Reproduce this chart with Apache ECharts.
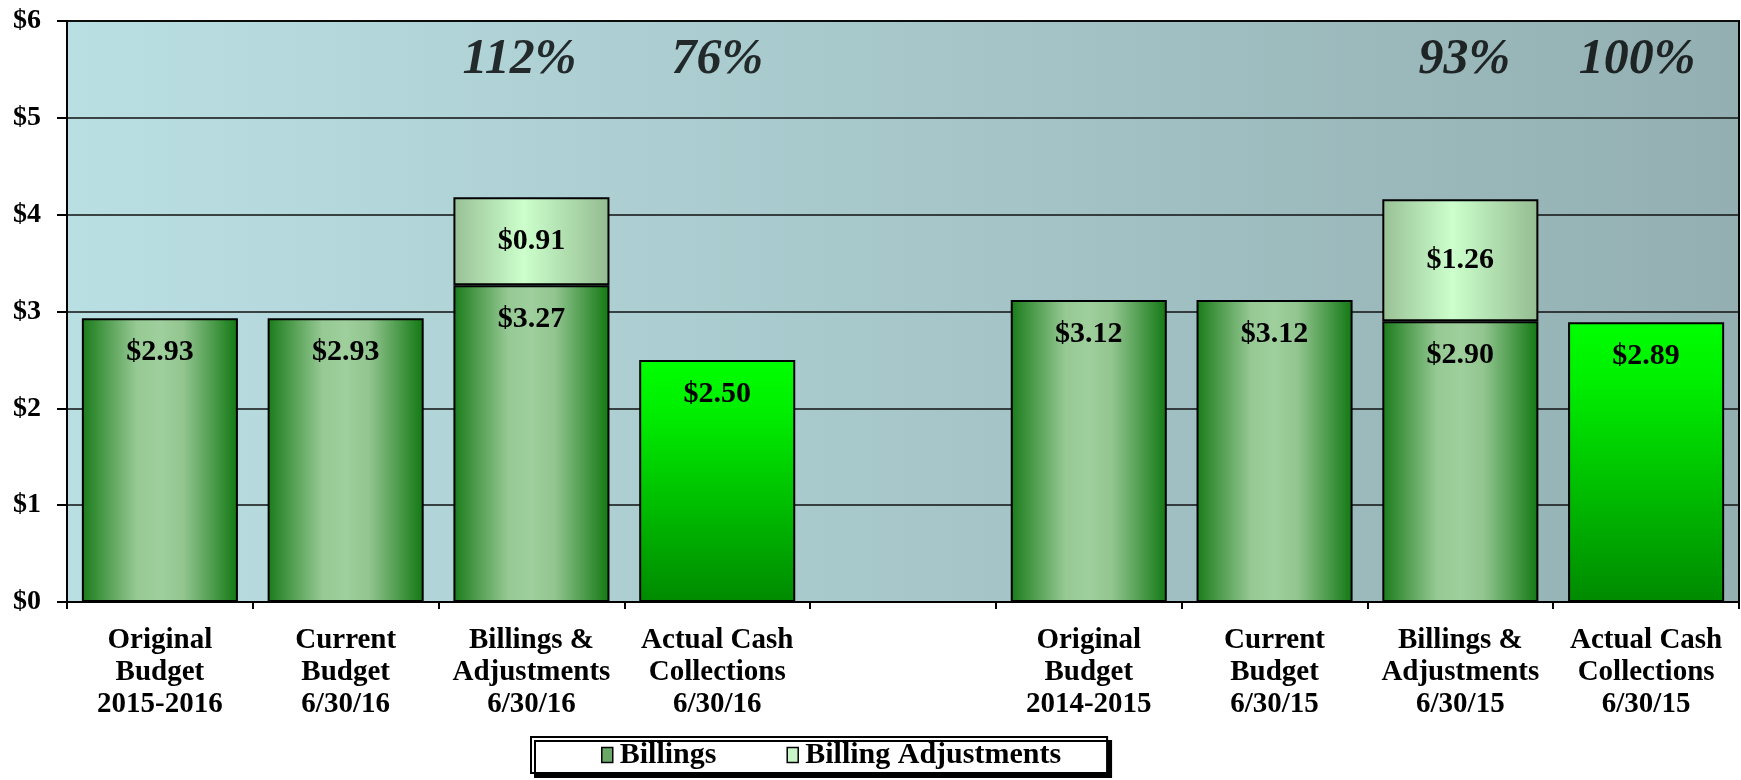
<!DOCTYPE html>
<html>
<head>
<meta charset="utf-8">
<script src="https://cdn.jsdelivr.net/npm/echarts@6/dist/echarts.min.js"></script>
<style>
  html, body { margin: 0; padding: 0; background: #fff; }
  #chart { width: 1741px; height: 780px; }
</style>
</head>
<body>
<div id="chart"></div>
<script>
'use strict';

// categories (the empty one is the gap between the two fiscal years)
var categories = [
    'Original\nBudget\n2015-2016',
    'Current\nBudget\n6/30/16',
    'Billings &\nAdjustments\n6/30/16',
    'Actual Cash\nCollections\n6/30/16',
    '',
    'Original\nBudget\n2014-2015',
    'Current\nBudget\n6/30/15',
    'Billings &\nAdjustments\n6/30/15',
    'Actual Cash\nCollections\n6/30/15'
];
var billings = [2.93, 2.93, 3.27, 2.50, null, 3.12, 3.12, 2.90, 2.89];
var adjustments = [null, null, 0.91, null, null, null, null, 1.26, null];
var pctLabels = ['', '', '112%', '76%', '', '', '', '93%', '100%'];
var pctShift = [0, 0, -12, 0, 0, 0, 0, 4, -9]; // the text boxes aren't quite centred in the original
var yTicks = [0, 1, 2, 3, 4, 5, 6];

const FONT = '"Liberation Serif", "Times New Roman", serif';
const PCT_Y = 5.6; // height where the percentages sit

// horizontal "cylinder" gradients like the excel original
var billGrad = {
    type: 'linear', x: 0, y: 0, x2: 1, y2: 0,
    colorStops: [
        { offset: 0, color: '#1a7b1a' },
        { offset: 0.35, color: '#96c994' },
        { offset: 0.5, color: '#9ecf9c' },
        { offset: 0.65, color: '#92c590' },
        { offset: 1, color: '#127812' }
    ]
};
var adjGrad = {
    type: 'linear', x: 0, y: 0, x2: 1, y2: 0,
    colorStops: [
        { offset: 0, color: '#98c095' },
        { offset: 0.45, color: '#ccffcc' },
        { offset: 1, color: '#94bc91' }
    ]
};
var cashGrad = {
    type: 'linear', x: 0, y: 0, x2: 0, y2: 1,
    colorStops: [
        { offset: 0, color: '#00ff00' },
        { offset: 0.2, color: '#00f000' },
        { offset: 1, color: '#008a00' }
    ]
};

var myChart = echarts.init(document.getElementById('chart'));

var option = {
    animation: false,
    grid: {
        left: 67, right: 2, top: 21, bottom: 178,
        outerBoundsMode: 'none',
        show: true,
        borderColor: '#000',
        borderWidth: 2,
        backgroundColor: {
            type: 'linear', x: 0, y: 0, x2: 1, y2: 0,
            colorStops: [
                { offset: 0, color: '#badfe3' },
                { offset: 1, color: '#93afb1' }
            ]
        }
    },
    legend: {
        data: [
            { name: 'Billings', itemStyle: { color: '#6aa868', borderColor: '#000', borderWidth: 1.5 } },
            { name: 'Billing Adjustments', itemStyle: { color: '#c8f5c8', borderColor: '#000', borderWidth: 1.5 } }
        ],
        left: 531,
        top: 737,
        icon: 'rect',
        itemWidth: 11,
        itemHeight: 15,
        itemGap: 70,
        padding: [3, 46, 3, 70],
        backgroundColor: '#fff',
        borderColor: '#000',
        borderWidth: 2,
        borderRadius: 0,
        shadowColor: '#000',
        shadowBlur: 0,
        shadowOffsetX: 4,
        shadowOffsetY: 4,
        textStyle: { fontFamily: FONT, fontWeight: 'bold', fontSize: 30, color: '#000', padding: [0, 0, 0, 2] },
        selectedMode: false
    },
    xAxis: {
        type: 'category',
        data: categories,
        axisLine: { show: true, lineStyle: { color: '#000', width: 2 } },
        axisTick: { show: true, length: 7, lineStyle: { color: '#000', width: 2 } },
        axisLabel: {
            interval: 0,
            margin: 23,
            fontFamily: FONT,
            fontWeight: 'bold',
            fontSize: 29,
            lineHeight: 32,
            color: '#000'
        }
    },
    yAxis: {
        type: 'value',
        min: yTicks[0],
        max: yTicks[yTicks.length - 1],
        interval: 1,
        axisLine: { show: true, lineStyle: { color: '#000', width: 2 } },
        axisTick: { show: true, length: 10, lineStyle: { color: '#000', width: 2 } },
        splitLine: { show: true, lineStyle: { color: '#111', width: 1.5 } },
        axisLabel: {
            margin: 26,
            fontFamily: FONT,
            fontWeight: 'bold',
            fontSize: 28,
            color: '#000',
            formatter: (v) => '$' + v
        }
    },
    series: [
        {
            name: 'Billings',
            type: 'bar',
            stack: 'total',
            barCategoryGap: '16%',
            data: billings.map(function (v, i) {
                if (v == null) return null;
                var isCash = categories[i].indexOf('Actual Cash') === 0;
                return { value: v, itemStyle: { color: isCash ? cashGrad : billGrad } };
            }),
            itemStyle: { borderColor: '#000', borderWidth: 2 },
            label: {
                show: true,
                position: 'insideTop',
                distance: 19,
                fontFamily: FONT,
                fontWeight: 'bold',
                fontSize: 30,
                color: '#000',
                formatter: (p) => '$' + p.value.toFixed(2)
            }
        },
        {
            name: 'Billing Adjustments',
            type: 'bar',
            stack: 'total',
            barCategoryGap: '16%',
            data: adjustments,
            itemStyle: { color: adjGrad, borderColor: '#000', borderWidth: 2 },
            label: {
                show: true,
                position: 'inside',
                fontFamily: FONT,
                fontWeight: 'bold',
                fontSize: 30,
                color: '#000',
                formatter: (p) => '$' + p.value.toFixed(2)
            }
        },
        {
            // collection percentages above the bars
            name: 'pct',
            type: 'scatter',
            symbolSize: 0,
            silent: true,
            data: pctLabels.map(function (p, i) {
                return p ? { value: [i, PCT_Y], pct: p, label: { offset: [pctShift[i], 0] } } : null;
            }),
            label: {
                show: true,
                position: 'inside',
                fontFamily: FONT,
                fontWeight: 'bold',
                fontStyle: 'italic',
                fontSize: 50,
                color: '#000',
                formatter: (p) => p.data.pct
            }
        }
    ]
};

myChart.setOption(option);
</script>
</body>
</html>
